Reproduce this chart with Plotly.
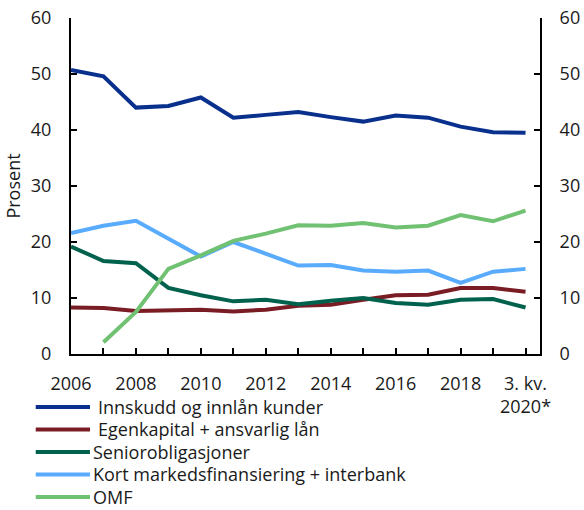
import plotly.graph_objects as go

years = list(range(2006, 2021))
innskudd = [50.7, 49.6, 44.0, 44.3, 45.8, 42.2, 42.7, 43.2, 42.3, 41.5, 42.6, 42.2, 40.6, 39.6, 39.5]
egenkapital = [8.3, 8.2, 7.7, 7.8, 7.9, 7.6, 7.9, 8.6, 8.8, 9.7, 10.5, 10.6, 11.8, 11.8, 11.1]
senior = [19.2, 16.6, 16.2, 11.8, 10.5, 9.4, 9.7, 8.9, 9.5, 10.0, 9.1, 8.8, 9.7, 9.8, 8.3]
kort = [21.6, 22.9, 23.8, 20.5, 17.4, 20.0, 17.9, 15.8, 15.9, 14.9, 14.7, 14.9, 12.7, 14.7, 15.2]
omf = [None, 2.1, 7.5, 15.2, 17.6, 20.2, 21.5, 23.0, 22.9, 23.4, 22.6, 22.9, 24.8, 23.7, 25.6]

series_names = ["Innskudd og innlån kunder", "Egenkapital + ansvarlig lån",
                "Seniorobligasjoner", "Kort markedsfinansiering + interbank", "OMF"]
series_values = [innskudd, egenkapital, senior, kort, omf]
colors = ["#08308C", "#7A1C24", "#00614D", "#59ACFD", "#71C173"]

x_tick_labels = {2006: "2006", 2008: "2008", 2010: "2010", 2012: "2012", 2014: "2014",
                 2016: "2016", 2018: "2018", 2020: "3. kv.<br>2020*"}
y_ticks = [0, 10, 20, 30, 40, 50, 60]

font_family = "Open Sans, DejaVu Sans, sans-serif"
text_color = "#1a1a1a"

fig = go.Figure()
for name, vals, c in zip(series_names, series_values, colors):
    fig.add_trace(go.Scatter(x=years, y=vals, name=name, mode="lines",
                             line=dict(color=c, width=4), connectgaps=False,
                             showlegend=False))

# invisible trace so that the right axis is drawn
fig.add_trace(go.Scatter(x=[years[0]], y=[0], yaxis="y2", showlegend=False,
                         mode="markers", marker=dict(opacity=0), hoverinfo="skip"))

axis_common = dict(range=[0, 60], tickvals=y_ticks,
                   ticks="inside", ticklen=6, tickwidth=2, tickcolor="black",
                   showline=True, linecolor="black", linewidth=2,
                   showgrid=False, zeroline=False, automargin=False,
                   tickfont=dict(size=18, color=text_color, family=font_family))

fig.update_layout(
    width=584, height=510,
    margin=dict(l=71, r=43.5, t=18, b=156, autoexpand=False),
    plot_bgcolor="white", paper_bgcolor="white",
    font=dict(family=font_family, color=text_color),
    xaxis=dict(range=[2006, 2020.446], tickvals=years,
               ticktext=[x_tick_labels.get(y, "") for y in years],
               ticks="inside", ticklen=6, tickwidth=2, tickcolor="black",
               showline=True, linecolor="black", linewidth=2,
               showgrid=False, zeroline=False, automargin=False,
               ticklabelstandoff=12,
               tickfont=dict(size=18, color=text_color, family=font_family)),
    yaxis=dict(**axis_common, ticklabelstandoff=14,
               title=dict(text="Prosent", font=dict(size=18, color=text_color), standoff=6)),
    yaxis2=dict(**axis_common, overlaying="y", side="right", ticklabelstandoff=14),
    showlegend=False,
)

annotations = []
shapes = []
# legend, drawn below the plot (rows at about 407, 429.5, 452, 474.5, 497 px)
row_y = [-0.1577, -0.2247, -0.2917, -0.3586, -0.4256]
text_x = [0.056, 0.056, 0.0454, 0.0454, 0.0454]
for name, c, yy, tx in zip(series_names, colors, row_y, text_x):
    shapes.append(dict(type="line", xref="paper", yref="paper",
                       x0=-0.0752, x1=0.0405, y0=yy, y1=yy,
                       line=dict(color=c, width=4)))
    annotations.append(dict(x=tx, y=yy, xref="paper", yref="paper",
                            text=name, showarrow=False, xanchor="left", yanchor="middle",
                            borderpad=0,
                            font=dict(size=18, color=text_color, family=font_family)))

fig.update_layout(annotations=annotations, shapes=shapes)

fig.write_html("out.html", post_script="document.body.style.margin='0';",
               config={"displayModeBar": False})
